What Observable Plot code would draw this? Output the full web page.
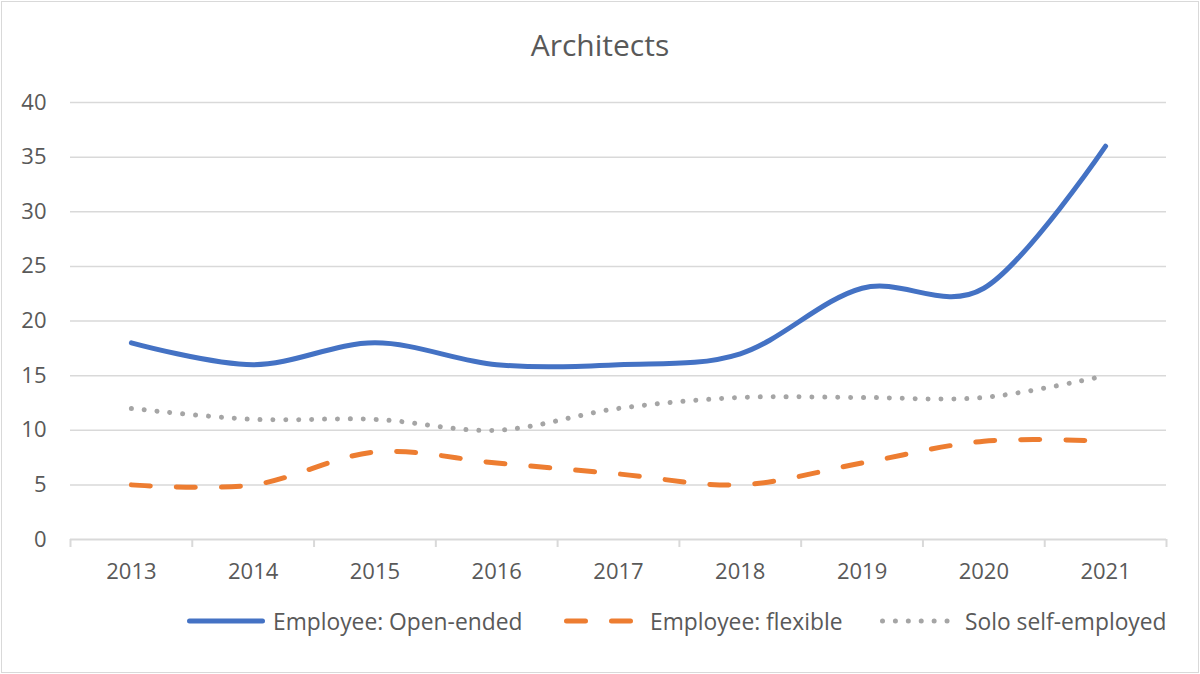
<!DOCTYPE html>
<html>
<head>
<meta charset="utf-8">
<script src="https://cdn.jsdelivr.net/npm/d3@7"></script>
<script src="https://cdn.jsdelivr.net/npm/@observablehq/plot@0.6"></script>
<style>
  html, body { margin: 0; padding: 0; background: #fff; }
  #wrap { position: relative; width: 1200px; height: 674px; overflow: hidden; font-family: "Open Sans", "Noto Sans", sans-serif; color: #595959; }
  #border { position: absolute; left: 1px; top: 1px; width: 1196px; height: 670px; border: 1.5px solid #d9d9d9; pointer-events: none; }
  #title { position: absolute; left: 0; width: 1200px; top: 25px; text-align: center; font-size: 30px; line-height: 40px; }
  #chart { position: absolute; left: 0; top: 0; }
  .leg { position: absolute; top: 606px; height: 30px; display: flex; align-items: center; font-size: 22.8px; white-space: nowrap; }
  .leg svg { display: block; }
</style>
</head>
<body>
<div id="wrap">
  <div id="chart"></div>
  <div id="title"></div>
  <div id="legend"></div>
  <div id="border"></div>
</div>
<script>
// ---- data ----
const title = "Architects";
const years = [2013, 2014, 2015, 2016, 2017, 2018, 2019, 2020, 2021];
const openEnded = [18, 16, 18, 16, 16, 17, 23, 23, 36];
const flexible = [5, 5, 8, 7, 6, 5, 7, 9, 9];
const solo = [12, 11, 11, 10, 12, 13, 13, 13, 15];
const seriesNames = ["Employee: Open-ended", "Employee: flexible", "Solo self-employed"];
const seriesColors = ["#4472C4", "#ED7D31", "#A5A5A5"];
const yTicks = [0, 5, 10, 15, 20, 25, 30, 35, 40];

// ---- build ----
const seriesValues = [openEnded, flexible, solo];
const rows = seriesNames.map((name, s) => years.map((yr, i) => ({series: name, year: yr, value: seriesValues[s][i]})));
const boundaries = [...years.map(y => y - 0.5), years[years.length - 1] + 0.5];

const styles = [
  {strokeWidth: 5, strokeLinecap: "round"},
  {strokeWidth: 5, strokeLinecap: "round", strokeDasharray: "19,26"},
  {strokeWidth: 5, strokeLinecap: "round", strokeDasharray: "0.01,12.9"}
];

const textColor = "#595959";
const gridColor = "#d9d9d9";

const plot = Plot.plot({
  width: 1200,
  height: 674,
  marginTop: 102,
  marginBottom: 135,
  marginLeft: 70,
  marginRight: 34,
  style: {fontFamily: '"Open Sans", "Noto Sans", sans-serif', fontSize: "22px", color: textColor, background: "transparent"},
  x: {type: "linear", domain: [boundaries[0], boundaries[boundaries.length - 1]], label: null},
  y: {domain: [0, 40], label: null},
  marks: [
    Plot.gridY(yTicks.filter(t => t > 0), {stroke: gridColor, strokeOpacity: 1, strokeWidth: 1.5}),
    Plot.ruleY([0], {stroke: gridColor, strokeWidth: 2}),
    Plot.axisX(boundaries, {tickSize: 8, tickFormat: () => "", stroke: gridColor, strokeWidth: 2, strokeOpacity: 1, label: null}),
    Plot.axisX(years, {tickSize: 0, tickPadding: 24, tickFormat: d => String(d), fill: textColor, fontSize: 22, label: null}),
    Plot.axisY(yTicks, {tickSize: 0, tickPadding: 24, fill: textColor, fontSize: 22, label: null}),
    ...rows.map((r, s) => Plot.line(r, {x: "year", y: "value", stroke: seriesColors[s], curve: "cardinal", tension: 0, ...styles[s]}))
  ]
});
document.getElementById("chart").appendChild(plot);
document.getElementById("title").textContent = title;

// ---- legend ----
const legend = document.getElementById("legend");
const legLeft = [187, 564, 880];
const swW = [78, 72, 74];
const swGap = [8, 14, 11];
seriesNames.forEach((name, s) => {
  const item = document.createElement("div");
  item.className = "leg";
  item.style.left = legLeft[s] + "px";
  const w = swW[s];
  const svg = d3.create("svg").attr("width", w).attr("height", 10).style("margin-right", swGap[s] + "px");
  const st = styles[s];
  svg.append("line")
    .attr("x1", 2.5).attr("x2", w - 2.5).attr("y1", 5).attr("y2", 5)
    .attr("stroke", seriesColors[s]).attr("stroke-width", st.strokeWidth)
    .attr("stroke-linecap", st.strokeLinecap)
    .attr("stroke-dasharray", st.strokeDasharray || null);
  item.appendChild(svg.node());
  const span = document.createElement("span");
  span.textContent = name;
  item.appendChild(span);
  legend.appendChild(item);
});
</script>
</body>
</html>
